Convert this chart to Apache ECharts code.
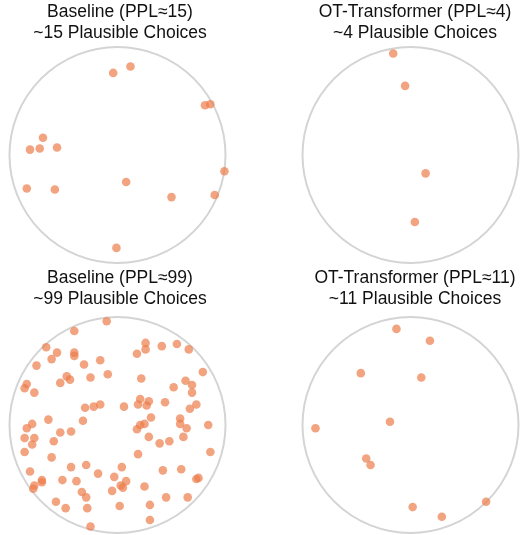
<!DOCTYPE html>
<html>
<head>
<meta charset="utf-8">
<script src="https://cdn.jsdelivr.net/npm/echarts@6/dist/echarts.min.js"></script>
<style>html,body{margin:0;padding:0;background:#fff;}#c{width:520px;height:535px;}</style>
</head>
<body>
<div id="c"></div>
<script>
// Panel titles
const titles = [
  "Baseline (PPL\u224815)\n~15 Plausible Choices",
  "OT-Transformer (PPL\u22484)\n~4 Plausible Choices",
  "Baseline (PPL\u224899)\n~99 Plausible Choices",
  "OT-Transformer (PPL\u224811)\n~11 Plausible Choices"
];

// Point positions in unit-disk coordinates (x, y)
const baseline15 = [
  [-0.04,0.76],[0.12,0.82],[0.81,0.46],[0.86,0.47],[-0.69,0.16],[-0.81,0.05],
  [-0.72,0.06],[-0.56,0.07],[0.99,-0.15],[0.08,-0.25],[-0.84,-0.31],[-0.58,-0.32],
  [0.50,-0.39],[0.90,-0.37],[-0.01,-0.86]
];
const ot4 = [
  [-0.16,0.94],[-0.05,0.64],[0.14,-0.17],[0.04,-0.62]
];
const baseline99 = [
  [-0.10,0.96],[-0.40,0.87],[-0.66,0.72],[-0.56,0.67],[-0.40,0.67],[-0.40,0.64],
  [-0.61,0.61],[0.26,0.76],[0.26,0.70],[0.18,0.66],[0.41,0.73],[0.55,0.75],
  [0.66,0.70],[-0.75,0.55],[-0.31,0.56],[-0.16,0.60],[-0.09,0.47],[-0.25,0.44],
  [-0.47,0.45],[-0.44,0.42],[-0.53,0.39],[-0.84,0.38],[-0.86,0.34],[-0.77,0.30],
  [0.79,0.49],[0.22,0.43],[0.63,0.41],[0.69,0.37],[0.52,0.35],[0.69,0.30],
  [-0.30,0.16],[-0.22,0.17],[-0.16,0.19],[0.06,0.17],[0.21,0.24],[0.19,0.19],
  [0.29,0.22],[0.27,0.18],[0.44,0.21],[0.73,0.19],[0.67,0.15],[-0.64,0.05],
  [-0.32,0.04],[-0.79,0.01],[-0.84,-0.03],[-0.53,-0.07],[-0.43,-0.06],[-0.86,-0.12],
  [-0.77,-0.12],[-0.79,-0.18],[-0.59,-0.15],[0.31,0.07],[0.21,0.00],[0.25,0.01],
  [0.18,-0.04],[0.58,0.06],[0.58,0.01],[0.64,-0.03],[0.84,0.00],[0.29,-0.11],
  [0.39,-0.17],[0.48,-0.15],[0.61,-0.11],[-0.86,-0.25],[-0.61,-0.30],[0.19,-0.27],
  [0.86,-0.25],[-0.81,-0.43],[-0.43,-0.39],[-0.29,-0.37],[-0.18,-0.45],[0.04,-0.39],
  [-0.03,-0.48],[0.08,-0.52],[-0.70,-0.51],[-0.70,-0.53],[-0.77,-0.56],[-0.78,-0.59],
  [-0.51,-0.51],[-0.38,-0.52],[0.42,-0.42],[0.59,-0.41],[0.75,-0.49],[0.73,-0.50],
  [-0.33,-0.62],[-0.29,-0.67],[-0.05,-0.61],[0.03,-0.56],[0.05,-0.58],[0.25,-0.57],
  [0.45,-0.67],[0.65,-0.67],[-0.57,-0.71],[-0.48,-0.77],[-0.28,-0.77],[0.02,-0.75],
  [0.30,-0.74],[0.30,-0.88],[-0.25,-0.94]
];
const ot11 = [
  [-0.13,0.89],[0.18,0.78],[-0.46,0.48],[0.10,0.44],[-0.19,0.03],[-0.88,-0.03],
  [-0.41,-0.31],[-0.37,-0.37],[0.70,-0.71],[0.02,-0.76],[0.29,-0.85]
];

const panelData = [baseline15, ot4, baseline99, ot11];

// Layout
const R = 108;
const centers = [[117.5,155],[410.5,155],[117.5,425],[410.5,425]];
const titlePos = [[120,2],[415,2],[120,268],[415,268]];

const grids = [], xAxes = [], yAxes = [], series = [], graphics = [];
centers.forEach((c, i) => {
  grids.push({left: c[0]-R, top: c[1]-R, width: 2*R, height: 2*R, containLabel: false});
  xAxes.push({type:'value', gridIndex:i, min:-1, max:1, show:false});
  yAxes.push({type:'value', gridIndex:i, min:-1, max:1, show:false});
  series.push({
    type:'scatter', xAxisIndex:i, yAxisIndex:i, data: panelData[i],
    symbolSize: 8.6, z: 3,
    itemStyle:{color:'#EC7C4A', opacity:0.7},
    silent:true
  });
  graphics.push({
    type:'circle', shape:{cx:c[0], cy:c[1], r:R}, z: 1,
    style:{fill:'none', stroke:'#d4d4d4', lineWidth:2}, silent:true
  });
  graphics.push({
    type:'text', x: titlePos[i][0], y: titlePos[i][1], z: 5,
    style:{text: titles[i], textAlign:'center', textVerticalAlign:'top',
      font:'17.5px "Liberation Sans", Arial, sans-serif', lineHeight:21, fill:'#111'}
  });
});

const chart = echarts.init(document.getElementById('c'), null, {renderer:'canvas'});
chart.setOption({
  animation:false,
  backgroundColor:'#fff',
  grid: grids, xAxis: xAxes, yAxis: yAxes, series: series,
  graphic: graphics
});
</script>
</body>
</html>
